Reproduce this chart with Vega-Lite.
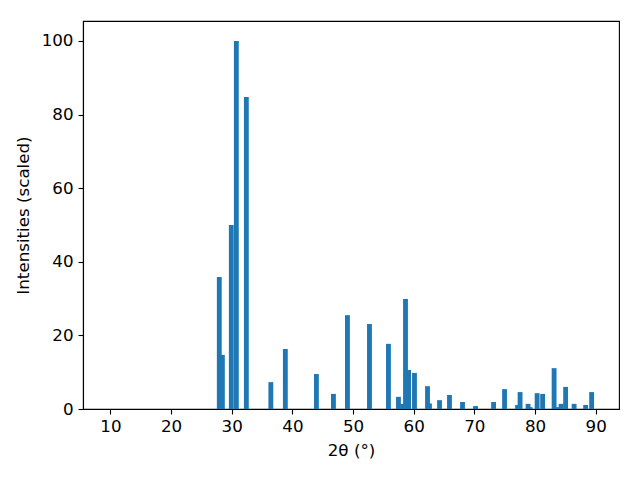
{
  "$schema": "https://vega.github.io/schema/vega-lite/v6.json",
  "autosize": "none",
  "width": 536,
  "height": 388,
  "padding": {"left": 83, "top": 21, "right": 21, "bottom": 71},
  "background": "white",
  "config": {
    "view": {"stroke": "black", "strokeWidth": 1.1}
  },
  "data": {
    "values": [
      {"two_theta": 28.46, "intensity": 14.7},
      {"two_theta": 27.95, "intensity": 35.9},
      {"two_theta": 29.93, "intensity": 50.0},
      {"two_theta": 30.76, "intensity": 100.0},
      {"two_theta": 32.41, "intensity": 84.8},
      {"two_theta": 36.45, "intensity": 7.3},
      {"two_theta": 38.84, "intensity": 16.3},
      {"two_theta": 43.96, "intensity": 9.5},
      {"two_theta": 46.77, "intensity": 4.1},
      {"two_theta": 49.08, "intensity": 25.5},
      {"two_theta": 52.71, "intensity": 23.1},
      {"two_theta": 55.84, "intensity": 17.7},
      {"two_theta": 57.49, "intensity": 3.3},
      {"two_theta": 58.2, "intensity": 1.4},
      {"two_theta": 59.16, "intensity": 10.6},
      {"two_theta": 58.65, "intensity": 29.9},
      {"two_theta": 60.13, "intensity": 9.8},
      {"two_theta": 62.6, "intensity": 1.5},
      {"two_theta": 62.28, "intensity": 6.2},
      {"two_theta": 64.26, "intensity": 2.4},
      {"two_theta": 65.9, "intensity": 3.8},
      {"two_theta": 68.05, "intensity": 1.9},
      {"two_theta": 70.2, "intensity": 0.8},
      {"two_theta": 73.17, "intensity": 1.9},
      {"two_theta": 74.98, "intensity": 5.4},
      {"two_theta": 77.13, "intensity": 1.1},
      {"two_theta": 77.54, "intensity": 4.6},
      {"two_theta": 79.2, "intensity": 0.5},
      {"two_theta": 78.86, "intensity": 1.4},
      {"two_theta": 80.35, "intensity": 4.3},
      {"two_theta": 81.26, "intensity": 4.1},
      {"two_theta": 83.65, "intensity": 0.5},
      {"two_theta": 83.15, "intensity": 11.1},
      {"two_theta": 84.3, "intensity": 1.4},
      {"two_theta": 85.05, "intensity": 6.0},
      {"two_theta": 86.45, "intensity": 1.4},
      {"two_theta": 88.35, "intensity": 1.1},
      {"two_theta": 89.34, "intensity": 4.6}
    ]
  },
  "mark": {"type": "bar", "width": 4.85, "color": "#1f77b4", "cornerRadius": 0},
  "encoding": {
    "x": {
      "field": "two_theta",
      "type": "quantitative",
      "scale": {"domain": [5.48, 93.85], "nice": false, "zero": false, "padding": 0},
      "axis": {
        "values": [10, 20, 30, 40, 50, 60, 70, 80, 90],
        "title": "2θ (°)",
        "grid": false,
        "domainColor": "black", "domainWidth": 1.1,
        "tickColor": "black", "tickWidth": 1.1, "tickSize": 5,
        "labelFont": "DejaVu Sans", "labelFontSize": 16.7, "labelColor": "black", "labelPadding": 4,
        "titleFont": "DejaVu Sans", "titleFontSize": 16.7, "titleFontWeight": "normal", "titleColor": "black",
        "titlePadding": 8
      }
    },
    "y": {
      "field": "intensity",
      "type": "quantitative",
      "scale": {"domain": [0, 105.43], "nice": false, "padding": 0},
      "axis": {
        "values": [0, 20, 40, 60, 80, 100],
        "title": "Intensities (scaled)",
        "grid": false,
        "domainColor": "black", "domainWidth": 1.1,
        "tickColor": "black", "tickWidth": 1.1, "tickSize": 5,
        "labelFont": "DejaVu Sans", "labelFontSize": 16.7, "labelColor": "black", "labelPadding": 5,
        "titleFont": "DejaVu Sans", "titleFontSize": 16.7, "titleFontWeight": "normal", "titleColor": "black",
        "titlePadding": 9
      }
    }
  }
}
